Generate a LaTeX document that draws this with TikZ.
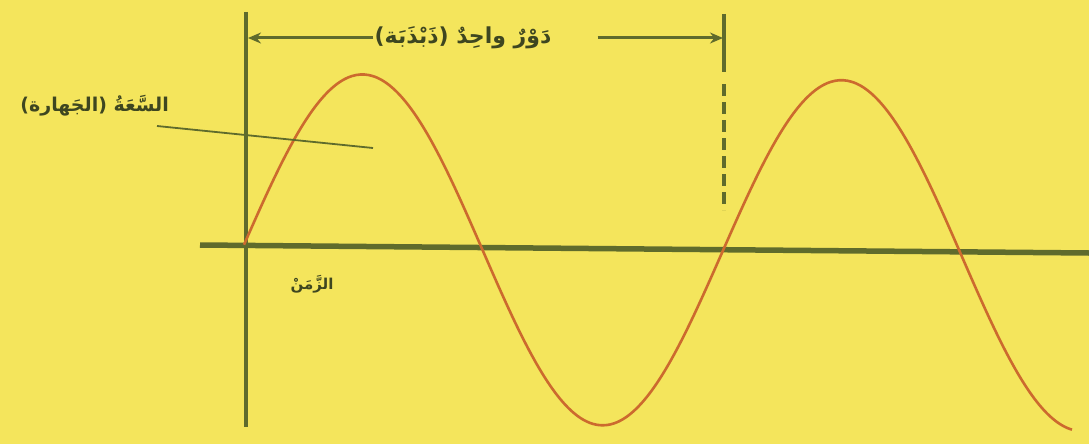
\documentclass[tikz,border=0pt]{standalone}
\usepackage{fontspec}
\usepackage{xcolor}
\usepackage{tikz}
\usetikzlibrary{arrows.meta, calc}
\newfontfamily\arabicfont[Script=Arabic]{DejaVu Sans}
\TeXXeTstate=1
\definecolor{bgyellow}{HTML}{F4E55C}
\definecolor{axisgreen}{HTML}{5F6B2C}
\definecolor{waveorange}{HTML}{CC6A2E}
\definecolor{inkolive}{HTML}{3E4620}

\begin{document}
\begin{tikzpicture}[
  x=1pt, y=-1pt,
  axis/.style={axisgreen, line width=5.5pt},
  yax/.style={axisgreen, line width=3.2pt},
  dsh/.style={axisgreen, line width=3.5pt, dash pattern=on 12pt off 6pt},
  wave/.style={waveorange, line width=2.6pt},
  ar/.style={-{Stealth[length=13pt, width=11pt]}, axisgreen, line width=3pt},
  ptr/.style={axisgreen, line width=1.8pt},
  lbl/.style={font=\arabicfont\bfseries, text=inkolive, inner sep=1pt},
]
  \fill[bgyellow] (0,0) rectangle (1089,444);
  \useasboundingbox (0,0) rectangle (1089,444);

  % axes
  \coordinate (yaxtop) at (246,12);
  \coordinate (yaxbot) at (246,427);
  \coordinate (xaxl)   at (200,245);
  \coordinate (xaxr)   at (1089,253);
  \coordinate (dshtop) at (724,14);
  \coordinate (dshmid) at (724,72);
  \coordinate (dshbot) at (724,210);
  \draw[axis] (xaxl) -- (xaxr);
  \draw[yax] (yaxtop) -- (yaxbot);
  \draw[yax, line width=3.5pt] (dshtop) -- (dshmid);
  \draw[dsh] ([yshift=-12pt]dshmid) -- (dshbot);

  % the wave (period 479)
  \draw[wave] plot[domain=244:1072, samples=200, smooth]
    (\x, {247+0.012*(\x-243)-174*sin(0.75157*(\x-243))});

  % labels
  \node[lbl, font=\arabicfont\fontsize{22}{26}\selectfont\bfseries] (per) at (463,38)
    {\beginR دَوْرٌ واحِدٌ (ذَبْذَبَة)\endR};
  \node[lbl, anchor=east, font=\arabicfont\fontsize{19}{23}\selectfont\bfseries] (amp) at (170,106)
    {\beginR السَّعَةُ (الجَهارة)\endR};
  \node[lbl, font=\arabicfont\fontsize{15}{18}\selectfont\bfseries] (tim) at (312,284)
    {\beginR الزَّمَنْ\endR};

  \coordinate (perl) at (248,38);
  \coordinate (perr) at (723,38);
  \coordinate (ampend) at (373,148);
  \draw[ar] (per.west) -- (perl);
  \draw[ar, shorten <=45pt] (per.east) -- (perr);
  \draw[ptr] ([shift={(-13,20)}]amp.east) -- (ampend);
\end{tikzpicture}
\end{document}
